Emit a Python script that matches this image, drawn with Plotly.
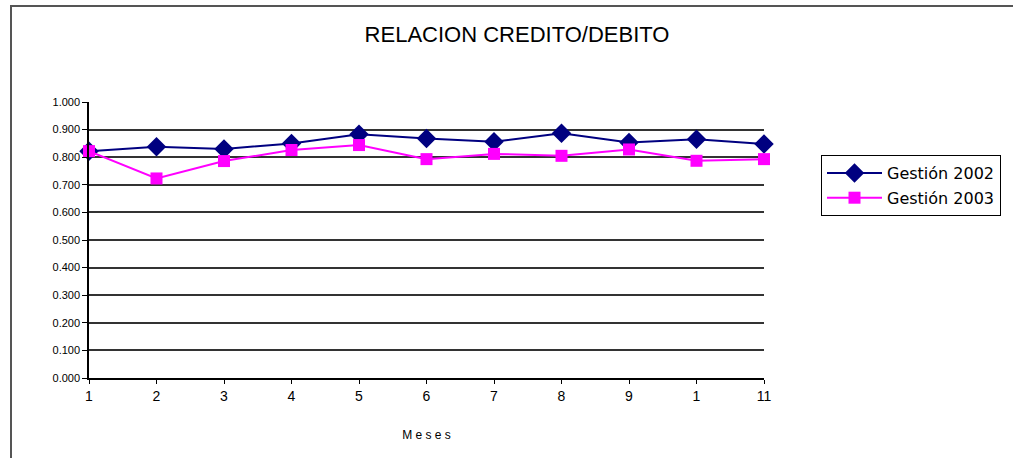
import plotly.graph_objects as go

months = [1, 2, 3, 4, 5, 6, 7, 8, 9, 10, 11]
tick_labels = ["1", "2", "3", "4", "5", "6", "7", "8", "9", "1", "11"]
gestion_2002 = [0.822, 0.838, 0.830, 0.850, 0.883, 0.868, 0.856, 0.887, 0.853, 0.865, 0.848]
gestion_2003 = [0.822, 0.723, 0.786, 0.826, 0.844, 0.793, 0.812, 0.805, 0.828, 0.787, 0.793]
y_ticks = [0.0, 0.1, 0.2, 0.3, 0.4, 0.5, 0.6, 0.7, 0.8, 0.9, 1.0]

W, H = 1013, 458
L, R, T, B = 89, W - 764, 102, H - 378
pw, ph = W - L - R, H - T - B

fig = go.Figure()
fig.add_trace(go.Scatter(
    x=months, y=gestion_2002, name="Gestión 2002", mode="lines+markers",
    legendgroup="g2002",
    line=dict(color="#000080", width=2),
    marker=dict(symbol="diamond", size=15, color="#000080"),
    cliponaxis=False))
fig.add_trace(go.Scatter(
    x=months, y=gestion_2003, name="Gestión 2003", mode="lines+markers",
    legendgroup="g2003",
    line=dict(color="#FF00FF", width=2),
    marker=dict(symbol="square", size=12, color="#FF00FF"),
    cliponaxis=False))

fig.update_layout(
    width=W, height=H,
    margin=dict(l=L, r=R, t=T, b=B),
    paper_bgcolor="white", plot_bgcolor="white",
    font=dict(family="Liberation Sans, Arial, sans-serif", color="black"),
    title=dict(text="RELACION CREDITO/DEBITO", x=517 / W, xanchor="center",
               y=1 - 34 / H, yanchor="middle",
               font=dict(size=22, color="black")),
    showlegend=True,
    legend=dict(x=(821 - L) / pw, xanchor="left", y=(378 - 155) / ph, yanchor="top",
                bordercolor="black", borderwidth=1, bgcolor="white",
                font=dict(size=16, family="DejaVu Sans, sans-serif"), tracegroupgap=1,
                itemwidth=55),
    xaxis=dict(range=[1, 11], tickmode="array", tickvals=months, ticktext=tick_labels,
               showgrid=False, zeroline=False, showline=True, linecolor="black", linewidth=1.5,
               ticks="outside", ticklen=4, tickcolor="black", tickfont=dict(size=14),
               title=dict(text="M e s e s", font=dict(size=12), standoff=28)),
    yaxis=dict(range=[0, 1], tickmode="array", tickvals=y_ticks,
               ticktext=[f"{v:.3f}" for v in y_ticks],
               showgrid=True, gridcolor="#333333", gridwidth=1.5, zeroline=False,
               showline=True, linecolor="black", linewidth=1.5,
               ticks="outside", ticklen=5, tickcolor="black", tickfont=dict(size=11)),
)

fig.add_shape(type="rect", xref="paper", yref="paper",
              x0=(11 - L) / pw, x1=1.6, y0=-0.6, y1=(378 - 6) / ph,
              line=dict(color="#555555", width=2), fillcolor="rgba(0,0,0,0)", layer="below")

fig.write_html("out.html", config={"displayModeBar": False},
               post_script="document.body.style.margin='0px';")
